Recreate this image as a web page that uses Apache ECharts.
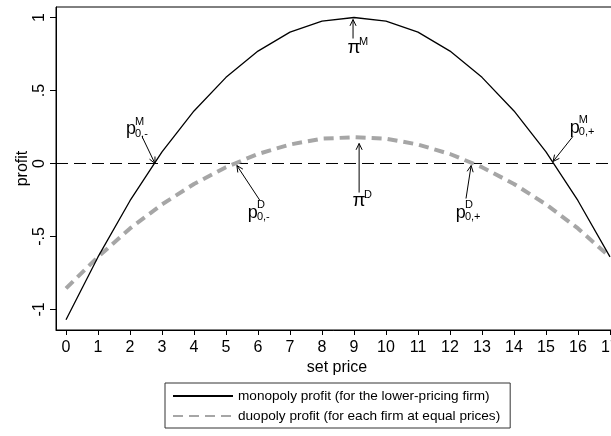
<!DOCTYPE html>
<html>
<head>
<meta charset="utf-8">
<script src="https://cdn.jsdelivr.net/npm/echarts@6/dist/echarts.min.js"></script>
<style>
html,body{margin:0;padding:0;background:#fff;}
#chart{width:611px;height:436px;}
</style>
</head>
<body>
<div id="chart"></div>
<script>
// ---- data ----
const prices = [0,1,2,3,4,5,6,7,8,9,10,11,12,13,14,15,16,17];
const monopoly = [-1.07,-0.64,-0.255,0.08,0.36,0.59,0.77,0.9,0.975,1.0,0.975,0.9,0.77,0.59,0.36,0.08,-0.255,-0.64];
const duopoly = [-0.855,-0.64,-0.445,-0.28,-0.14,-0.025,0.065,0.13,0.17,0.18,0.17,0.13,0.065,-0.025,-0.14,-0.28,-0.445,-0.64];
const xTicks = [0,1,2,3,4,5,6,7,8,9,10,11,12,13,14,15,16,17];
const yTicks = [-1,-0.5,0,0.5,1];
const yTickLabels = ['-1','-.5','0','.5','1'];
const xRange = [-0.3125, 17.25];
const yRange = [-1.1404, 1.0719];
const zeroLevel = 0;
const seriesNames = ['monopoly profit (for the lower-pricing firm)','duopoly profit (for each firm at equal prices)'];
// annotations: arrow tail (x,y), arrow head (x,y), label centre (x,y) in data units
const annTail = [[2.375,0.185],[8.97,0.856],[15.84,0.185],[9.16,-0.199],[6.06,-0.253],[12.5,-0.24]];
const annHead = [[2.78,0.0],[8.97,0.986],[15.22,0.014],[9.16,0.137],[5.34,-0.014],[12.66,-0.014]];
const annLabel = [[2.03,0.233],[9.0,0.795],[15.9,0.24],[9.16,-0.253],[5.84,-0.336],[12.34,-0.336]];
const annMain = ['p','π','p','π','p','p'];
const annSup = ['M','M','M','D','D','D'];
const annSub = ['0,-','','0,+','','0,-','0,+'];

const FONT = '"Liberation Sans", Arial, sans-serif';
const chart = echarts.init(document.getElementById('chart'), null, {renderer:'canvas'});

const annData = annTail.map((t,i)=>[t[0],t[1],annHead[i][0],annHead[i][1],annLabel[i][0],annLabel[i][1],i]);

function renderAnn(params, api){
  const t = api.coord([api.value(0), api.value(1)]);
  const h = api.coord([api.value(2), api.value(3)]);
  const l = api.coord([api.value(4), api.value(5)]);
  const i = api.value(6);
  const ang = Math.atan2(h[1]-t[1], h[0]-t[0]);
  const L = 7, spread = 0.45;
  const a1 = [h[0]-L*Math.cos(ang-spread), h[1]-L*Math.sin(ang-spread)];
  const a2 = [h[0]-L*Math.cos(ang+spread), h[1]-L*Math.sin(ang+spread)];
  const isPi = annMain[i] === 'π';
  const children = [
    {type:'line', shape:{x1:t[0],y1:t[1],x2:h[0],y2:h[1]}, style:{stroke:'#000', lineWidth:1}},
    {type:'polyline', shape:{points:[a1,h,a2]}, style:{stroke:'#000', lineWidth:1, fill:null}},
    {type:'text', style:{text:annMain[i], x:l[0], y:l[1], fill:'#000', font: (isPi? '19px ':'18px ')+FONT, align:'center', verticalAlign:'middle'}},
    {type:'text', style:{text:annSup[i], x:l[0]+(isPi?5:4), y:l[1]+(isPi?-5:-8), fill:'#000', font:'11px '+FONT, align:'left', verticalAlign:'middle'}}
  ];
  if (annSub[i]) {
    children.push({type:'text', style:{text:annSub[i], x:l[0]+4, y:l[1]+4, fill:'#000', font:'11px '+FONT, align:'left', verticalAlign:'middle'}});
  }
  return {type:'group', children};
}

const option = {
  animation:false,
  backgroundColor:'#fff',
  grid:{left:56, top:7, right:-7, bottom:106, outerBoundsMode:'none', containLabel:false,
    show:true, borderColor:'#000', borderWidth:1, backgroundColor:'transparent'},
  legend:{
    data: [seriesNames[0], seriesNames[1]],
    orient:'vertical', left:165, top:383,
    padding:[6,10,5,7],
    itemWidth:60, itemHeight:14, itemGap:6,
    borderColor:'#333', borderWidth:1, backgroundColor:'#fff',
    itemStyle:{opacity:0},
    textStyle:{fontSize:13.6, color:'#000', fontFamily:FONT},
    selectedMode:false
  },
  xAxis:{
    type:'value', min:xRange[0], max:xRange[1],
    axisLine:{show:true, onZero:false, lineStyle:{color:'#000', width:1}},
    axisTick:{show:true, customValues:xTicks, length:5, lineStyle:{color:'#000'}},
    axisLabel:{customValues:xTicks, fontSize:16, color:'#000', fontFamily:FONT, margin:10},
    splitLine:{show:false},
    name:'set price', nameLocation:'middle', nameGap:30, nameMoveOverlap:false,
    nameTextStyle:{fontSize:16, color:'#000', fontFamily:FONT}
  },
  yAxis:{
    type:'value', min:yRange[0], max:yRange[1],
    axisLine:{show:true, onZero:false, lineStyle:{color:'#000', width:1}},
    axisTick:{show:true, customValues:yTicks, length:6, lineStyle:{color:'#000'}},
    axisLabel:{customValues:yTicks, rotate:90, fontSize:16, color:'#000', fontFamily:FONT, margin:8,
      formatter:(v)=>{const k=yTicks.findIndex(t=>Math.abs(t-v)<1e-9); return k>=0?yTickLabels[k]:'';}},
    splitLine:{show:false},
    name:'profit', nameLocation:'middle', nameGap:25, nameRotate:90, nameMoveOverlap:false,
    nameTextStyle:{fontSize:16, color:'#000', fontFamily:FONT}
  },
  series:[
    {
      name:'zero', type:'line', symbol:'none', z:1, silent:true,
      data: xRange.map(x=>[x, zeroLevel]),
      lineStyle:{color:'#000', width:1, type:[12,6]}
    },
    {
      name:seriesNames[1], type:'line', symbol:'none', z:2,
      data: prices.map((p,i)=>[p, duopoly[i]]),
      lineStyle:{color:'#a6a6a6', width:4, type:[10,6]},
      itemStyle:{color:'#a6a6a6'}
    },
    {
      name:seriesNames[0], type:'line', symbol:'none', z:3,
      data: prices.map((p,i)=>[p, monopoly[i]]),
      lineStyle:{color:'#000', width:1.3},
      itemStyle:{color:'#000'}
    },
    {
      name:'annotations', type:'custom', z:5, silent:true,
      renderItem: renderAnn,
      data: annData,
      clip:false
    }
  ]
};
chart.setOption(option);
</script>
</body>
</html>
